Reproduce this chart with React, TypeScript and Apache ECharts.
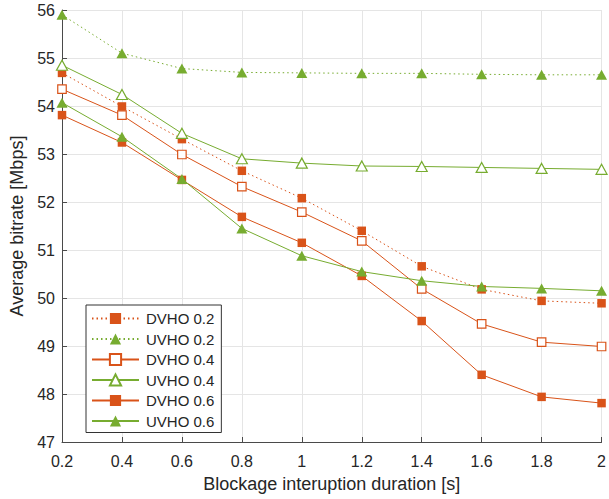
import React, { useEffect, useRef } from "react";
import * as echarts from "echarts";

const xValues = [0.2, 0.4, 0.6, 0.8, 1.0, 1.2, 1.4, 1.6, 1.8, 2.0];
const dvho02 = [54.69, 53.99, 53.31, 52.65, 52.08, 51.4, 50.66, 50.18, 49.94, 49.89];
const uvho02 = [55.9, 55.1, 54.78, 54.7, 54.69, 54.68, 54.68, 54.66, 54.65, 54.65];
const dvho04 = [54.35, 53.81, 52.99, 52.32, 51.79, 51.19, 50.19, 49.46, 49.08, 48.99];
const uvho04 = [54.85, 54.24, 53.43, 52.9, 52.81, 52.75, 52.74, 52.72, 52.7, 52.68];
const dvho06 = [53.81, 53.24, 52.46, 51.69, 51.15, 50.46, 49.52, 48.4, 47.94, 47.81];
const uvho06 = [54.07, 53.36, 52.48, 51.45, 50.88, 50.55, 50.36, 50.24, 50.2, 50.15];
const seriesNames = ["DVHO 0.2", "UVHO 0.2", "DVHO 0.4", "UVHO 0.4", "DVHO 0.6", "UVHO 0.6"];

const ORANGE = "#D95319";
const GREEN = "#77AC30";
const FONT = "Liberation Sans";

function pairs(ys: number[]) {
  return xValues.map((x, i) => [x, ys[i]]);
}

function makeSeries(
  name: string,
  ys: number[],
  color: string,
  square: boolean,
  hollow: boolean,
  dotted: boolean
) {
  return {
    name,
    type: "line",
    data: pairs(ys),
    symbol: square ? "rect" : "triangle",
    symbolSize: square ? [8.5, 8.5] : [11, 10],
    showAllSymbol: true,
    clip: false,
    lineStyle: { color, width: 1, type: dotted ? [1.5, 3] : "solid" },
    itemStyle: hollow
      ? { color: "#ffffff", borderColor: color, borderWidth: 1.2 }
      : { color, borderColor: color, borderWidth: 0 },
    emphasis: { disabled: true },
  };
}

export default function App() {
  const ref = useRef<HTMLDivElement>(null);
  useEffect(() => {
    if (!ref.current) return;
    const chart = echarts.init(ref.current, undefined, { renderer: "svg" });
    chart.setOption({
      animation: false,
      backgroundColor: "#ffffff",
      textStyle: { fontFamily: FONT },
      grid: { left: 62, right: 2, top: 10, bottom: 57, containLabel: false },
      xAxis: {
        type: "value",
        min: 0.2,
        max: 2,
        interval: 0.2,
        name: "Blockage interuption duration [s]",
        nameLocation: "middle",
        nameGap: 33,
        nameTextStyle: { fontSize: 18, color: "#262626", fontFamily: FONT },
        axisLine: { show: true, lineStyle: { color: "#4a4a4a", width: 1 } },
        axisTick: { show: true, inside: true, length: 5, lineStyle: { color: "#4a4a4a" } },
        axisLabel: { fontSize: 16, color: "#262626", margin: 11, fontFamily: FONT },
        splitLine: { show: true, lineStyle: { color: "#e5e5e5", width: 1 } },
      },
      yAxis: {
        type: "value",
        min: 47,
        max: 56,
        interval: 1,
        name: "Average bitrate [Mbps]",
        nameLocation: "middle",
        nameGap: 31,
        nameRotate: 90,
        nameTextStyle: { fontSize: 18, color: "#262626", fontFamily: FONT },
        axisLine: { show: true, lineStyle: { color: "#4a4a4a", width: 1 } },
        axisTick: { show: true, inside: true, length: 5, lineStyle: { color: "#4a4a4a" } },
        axisLabel: { fontSize: 16, color: "#262626", margin: 7, fontFamily: FONT },
        splitLine: { show: true, lineStyle: { color: "#e5e5e5", width: 1 } },
      },
      legend: {
        orient: "vertical",
        left: 86,
        top: 305,
        data: seriesNames,
        itemWidth: 47,
        itemHeight: 14,
        itemGap: 5.5,
        padding: [6, 7, 4, 5],
        borderColor: "#333333",
        borderWidth: 1,
        backgroundColor: "#ffffff",
        textStyle: { fontSize: 15, color: "#262626", fontFamily: FONT, padding: [0, 0, 0, 2] },
      },
      series: [
        makeSeries(seriesNames[0], dvho02, ORANGE, true, false, true),
        makeSeries(seriesNames[1], uvho02, GREEN, false, false, true),
        makeSeries(seriesNames[2], dvho04, ORANGE, true, true, false),
        makeSeries(seriesNames[3], uvho04, GREEN, false, true, false),
        makeSeries(seriesNames[4], dvho06, ORANGE, true, false, false),
        makeSeries(seriesNames[5], uvho06, GREEN, false, false, false),
      ],
    });
    return () => chart.dispose();
  }, []);
  return (
    <div
      ref={ref}
      style={{ position: "fixed", left: 0, top: 0, width: 609, height: 499 }}
    />
  );
}
